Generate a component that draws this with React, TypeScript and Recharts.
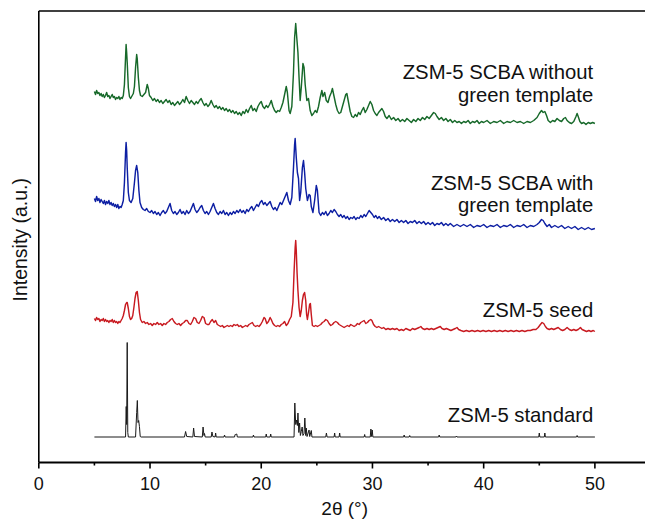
import React from 'react';
import { LineChart, Line, XAxis, YAxis, ReferenceDot, Label } from 'recharts';

type Pt = [number, number];

const X_TICKS = [0, 5, 10, 15, 20, 25, 30, 35, 40, 45, 50];
const X_DOMAIN: [number, number] = [0, 55];
const Y_DOMAIN: [number, number] = [0, 451.5];

const SERIES_NAMES = {
  green: ['ZSM-5 SCBA without', 'green template'],
  blue: ['ZSM-5 SCBA with', 'green template'],
  red: ['ZSM-5 seed'],
  black: ['ZSM-5 standard'],
};
// label anchor (2θ, stacked intensity of the first text baseline)
const LABEL_POS: Record<string, Pt> = {
  green: [49.85, 383.2],
  blue: [49.85, 272.5],
  red: [49.85, 145.8],
  black: [49.85, 40.2],
};

const greenPts: Pt[] = [
  [5.0,371],[5.1,368],[5.2,372],[5.3,369],[5.4,370],[5.5,367],[5.6,369],[5.7,366],[5.8,368],[5.9,365],[6.0,367],[6.1,370],[6.2,366],[6.3,367],[6.4,364],[6.5,366],[6.6,368],[6.7,365],[6.8,366],[6.9,363],[7.0,365],[7.1,364],[7.2,366],[7.3,363],[7.4,365],[7.5,364],[7.6,367],[7.7,378],[7.8,405],[7.85,418],[7.9,410],[7.95,400],[8.05,375],[8.15,366],[8.25,364],[8.35,366],[8.5,369],[8.6,376],[8.7,395],[8.8,408],[8.85,404],[8.95,385],[9.05,372],[9.15,367],[9.3,366],[9.45,368],[9.6,370],[9.75,378],[9.85,374],[9.95,367],[10.1,365],[10.25,362],[10.4,364],[10.55,361],[10.7,363],[10.85,360],[11.0,362],[11.15,359],[11.3,361],[11.45,363],[11.6,360],[11.75,362],[11.9,358],[12.05,360],[12.2,357],[12.35,359],[12.5,361],[12.65,358],[12.8,360],[12.95,363],[13.1,360],[13.25,366],[13.4,362],[13.55,359],[13.7,362],[13.85,360],[14.0,358],[14.15,361],[14.3,359],[14.45,362],[14.6,364],[14.75,360],[14.9,357],[15.05,359],[15.2,356],[15.35,358],[15.5,362],[15.65,358],[15.8,355],[15.95,357],[16.1,354],[16.25,356],[16.4,353],[16.55,355],[16.7,352],[16.85,354],[17.0,351],[17.15,353],[17.3,350],[17.45,352],[17.6,349],[17.75,351],[17.9,348],[18.05,350],[18.2,347],[18.35,351],[18.5,349],[18.65,353],[18.8,350],[18.95,354],[19.1,357],[19.25,352],[19.4,354],[19.55,351],[19.7,356],[19.85,359],[20.0,361],[20.15,356],[20.3,354],[20.45,357],[20.6,355],[20.75,358],[20.9,362],[21.05,356],[21.2,352],[21.35,350],[21.5,352],[21.65,351],[21.8,355],[21.95,360],[22.1,368],[22.25,376],[22.35,370],[22.5,352],[22.6,349],[22.75,356],[22.9,390],[23.0,425],[23.1,439],[23.2,424],[23.3,410],[23.4,385],[23.5,362],[23.6,375],[23.75,399],[23.85,395],[23.95,378],[24.1,362],[24.25,364],[24.4,352],[24.55,347],[24.7,349],[24.85,352],[25.0,350],[25.15,356],[25.3,365],[25.45,372],[25.55,366],[25.7,370],[25.85,362],[26.0,360],[26.15,366],[26.3,370],[26.4,374],[26.55,366],[26.7,358],[26.85,352],[27.0,349],[27.15,350],[27.3,356],[27.45,362],[27.6,368],[27.7,369],[27.85,360],[28.0,351],[28.15,346],[28.3,345],[28.45,348],[28.6,346],[28.75,350],[28.9,348],[29.05,352],[29.2,355],[29.35,350],[29.5,353],[29.65,357],[29.8,361],[29.95,358],[30.1,352],[30.25,349],[30.4,347],[30.55,350],[30.7,352],[30.85,354],[31.0,351],[31.15,346],[31.3,344],[31.5,347],[31.7,343],[31.9,345],[32.1,342],[32.3,344],[32.5,341],[32.7,343],[32.9,341],[33.1,344],[33.3,342],[33.5,340],[33.7,343],[33.9,341],[34.1,344],[34.3,342],[34.5,345],[34.7,343],[34.9,346],[35.1,344],[35.3,347],[35.5,350],[35.65,349],[35.8,346],[36.0,343],[36.2,345],[36.4,342],[36.6,344],[36.8,341],[37.0,343],[37.2,340],[37.4,342],[37.6,340],[37.8,341],[38.0,339],[38.2,341],[38.4,340],[38.6,342],[38.8,339],[39.0,341],[39.2,340],[39.4,342],[39.6,339],[39.8,341],[40.0,340],[40.3,342],[40.6,339],[40.9,341],[41.2,340],[41.5,342],[41.8,339],[42.1,341],[42.4,340],[42.7,342],[43.0,340],[43.3,341],[43.6,339],[43.9,341],[44.2,340],[44.5,342],[44.8,345],[45.0,349],[45.2,352],[45.35,350],[45.5,351],[45.65,347],[45.8,342],[46.0,340],[46.2,342],[46.4,341],[46.6,344],[46.8,342],[47.0,341],[47.2,344],[47.35,345],[47.5,342],[47.7,340],[47.9,339],[48.1,341],[48.3,346],[48.4,349],[48.5,346],[48.65,341],[48.8,339],[49.0,340],[49.2,338],[49.4,340],[49.6,339],[49.8,340],[50.0,339],
];

const bluePts: Pt[] = [
  [5.0,264],[5.1,261],[5.2,266],[5.3,262],[5.4,264],[5.5,260],[5.6,263],[5.7,261],[5.8,259],[5.9,262],[6.0,258],[6.1,261],[6.2,259],[6.3,262],[6.4,258],[6.5,260],[6.6,257],[6.7,259],[6.8,256],[6.9,258],[7.0,255],[7.1,258],[7.2,254],[7.3,256],[7.4,255],[7.5,258],[7.6,262],[7.7,280],[7.8,310],[7.85,320],[7.9,312],[7.95,295],[8.05,270],[8.15,262],[8.3,260],[8.45,264],[8.6,280],[8.7,292],[8.8,297],[8.9,290],[9.0,272],[9.1,260],[9.25,255],[9.4,253],[9.55,252],[9.7,254],[9.85,251],[10.0,250],[10.15,252],[10.3,249],[10.45,251],[10.6,248],[10.75,250],[10.9,247],[11.05,250],[11.2,252],[11.35,249],[11.5,251],[11.65,255],[11.8,259],[11.95,252],[12.1,249],[12.25,251],[12.4,248],[12.55,250],[12.7,253],[12.85,249],[13.0,251],[13.15,248],[13.3,252],[13.45,249],[13.6,251],[13.75,255],[13.9,259],[14.05,253],[14.2,250],[14.35,252],[14.5,255],[14.65,257],[14.8,252],[14.95,249],[15.1,251],[15.25,248],[15.4,251],[15.55,255],[15.7,259],[15.85,254],[16.0,250],[16.15,248],[16.3,251],[16.45,249],[16.6,252],[16.75,248],[16.9,250],[17.05,247],[17.2,250],[17.35,248],[17.5,251],[17.65,249],[17.8,252],[17.95,250],[18.1,253],[18.25,250],[18.4,252],[18.55,249],[18.7,253],[18.85,251],[19.0,254],[19.15,256],[19.3,252],[19.45,255],[19.6,258],[19.75,256],[19.9,260],[20.05,262],[20.2,258],[20.35,260],[20.5,257],[20.65,259],[20.8,261],[20.95,256],[21.1,253],[21.25,255],[21.4,252],[21.55,256],[21.7,260],[21.85,258],[22.0,262],[22.15,266],[22.3,270],[22.45,262],[22.6,258],[22.75,265],[22.9,295],[23.0,318],[23.05,324],[23.15,305],[23.25,290],[23.35,284],[23.45,262],[23.55,270],[23.7,295],[23.8,302],[23.9,290],[24.0,274],[24.15,262],[24.3,268],[24.4,267],[24.5,256],[24.65,250],[24.8,262],[24.95,277],[25.05,272],[25.2,250],[25.35,247],[25.5,250],[25.65,248],[25.8,251],[25.95,247],[26.1,249],[26.25,252],[26.4,250],[26.55,253],[26.7,251],[26.85,248],[27.0,246],[27.15,248],[27.3,245],[27.45,247],[27.6,244],[27.75,246],[27.9,243],[28.05,245],[28.2,244],[28.35,246],[28.5,243],[28.65,245],[28.8,244],[28.95,247],[29.1,245],[29.25,248],[29.4,246],[29.55,249],[29.7,252],[29.85,250],[30.0,248],[30.15,245],[30.3,247],[30.45,244],[30.6,246],[30.8,243],[31.0,245],[31.2,242],[31.4,244],[31.6,241],[31.8,243],[32.0,241],[32.2,243],[32.4,240],[32.6,242],[32.8,240],[33.0,242],[33.2,239],[33.4,241],[33.6,240],[33.8,242],[34.0,239],[34.2,241],[34.4,239],[34.6,241],[34.8,238],[35.0,240],[35.2,238],[35.4,240],[35.6,237],[35.8,239],[36.0,238],[36.2,240],[36.4,237],[36.6,239],[36.8,237],[37.0,239],[37.3,236],[37.6,238],[37.9,236],[38.2,238],[38.5,236],[38.8,238],[39.1,235],[39.4,237],[39.7,236],[40.0,238],[40.3,235],[40.6,237],[40.9,236],[41.2,238],[41.5,235],[41.8,237],[42.1,236],[42.4,238],[42.7,235],[43.0,237],[43.3,236],[43.6,238],[43.9,235],[44.2,237],[44.5,236],[44.8,238],[45.0,240],[45.2,243],[45.35,242],[45.5,239],[45.7,236],[45.9,238],[46.1,235],[46.4,237],[46.7,235],[47.0,237],[47.3,234],[47.6,236],[47.9,234],[48.2,236],[48.5,233],[48.8,235],[49.1,233],[49.4,235],[49.7,233],[50.0,234],
];

const redPts: Pt[] = [
  [5.0,144],[5.1,142],[5.2,145],[5.3,143],[5.4,144],[5.5,141],[5.6,143],[5.7,142],[5.8,144],[5.9,141],[6.0,143],[6.1,141],[6.2,142],[6.3,140],[6.4,142],[6.5,141],[6.6,143],[6.7,140],[6.8,142],[6.9,140],[7.0,141],[7.1,139],[7.2,141],[7.3,140],[7.4,142],[7.5,144],[7.6,147],[7.7,152],[7.8,158],[7.9,160],[7.95,160],[8.05,154],[8.15,146],[8.25,143],[8.35,144],[8.45,147],[8.55,155],[8.65,164],[8.75,170],[8.85,171],[8.95,162],[9.05,150],[9.15,143],[9.3,140],[9.45,141],[9.6,139],[9.75,140],[9.9,138],[10.05,139],[10.2,137],[10.35,139],[10.5,138],[10.65,140],[10.8,138],[10.95,139],[11.1,137],[11.25,139],[11.4,138],[11.55,140],[11.7,141],[11.85,143],[12.0,144],[12.15,141],[12.3,139],[12.45,138],[12.6,139],[12.75,137],[12.9,139],[13.05,140],[13.2,142],[13.35,142],[13.5,139],[13.65,138],[13.8,141],[13.95,145],[14.1,144],[14.25,140],[14.4,139],[14.55,142],[14.7,146],[14.85,145],[15.0,139],[15.15,138],[15.3,138],[15.45,141],[15.6,143],[15.75,140],[15.9,142],[16.05,138],[16.2,137],[16.35,136],[16.5,137],[16.65,135],[16.8,136],[16.95,137],[17.1,136],[17.25,137],[17.4,136],[17.55,138],[17.7,137],[17.85,138],[18.0,136],[18.15,137],[18.3,135],[18.45,136],[18.6,137],[18.75,136],[18.9,138],[19.05,139],[19.2,140],[19.35,137],[19.5,136],[19.65,137],[19.8,136],[19.95,138],[20.1,141],[20.25,145],[20.35,144],[20.5,139],[20.65,141],[20.8,145],[20.9,143],[21.05,139],[21.2,137],[21.35,136],[21.5,137],[21.65,136],[21.8,138],[21.95,139],[22.1,141],[22.25,137],[22.4,139],[22.55,143],[22.7,146],[22.85,160],[22.95,190],[23.05,215],[23.1,222],[23.15,212],[23.22,190],[23.3,172],[23.4,155],[23.5,146],[23.6,152],[23.7,162],[23.8,168],[23.9,170],[24.0,162],[24.08,148],[24.15,143],[24.25,150],[24.35,158],[24.42,159],[24.5,148],[24.6,137],[24.75,136],[24.9,137],[25.05,136],[25.2,137],[25.35,138],[25.5,140],[25.65,141],[25.8,143],[25.95,142],[26.1,139],[26.25,137],[26.4,138],[26.55,140],[26.7,141],[26.85,140],[27.0,138],[27.15,137],[27.3,136],[27.45,135],[27.6,136],[27.75,137],[27.9,136],[28.05,138],[28.2,137],[28.35,136],[28.5,137],[28.65,139],[28.8,138],[28.95,140],[29.1,141],[29.25,142],[29.4,139],[29.55,140],[29.7,142],[29.85,143],[29.95,142],[30.1,138],[30.25,136],[30.4,135],[30.55,136],[30.7,135],[30.85,134],[31.0,135],[31.2,133],[31.4,134],[31.6,133],[31.8,134],[32.0,133],[32.2,134],[32.4,132],[32.6,133],[32.8,132],[33.0,134],[33.2,133],[33.4,132],[33.6,134],[33.8,133],[34.0,134],[34.2,135],[34.35,136],[34.5,134],[34.7,133],[34.9,134],[35.1,133],[35.3,134],[35.5,133],[35.7,134],[35.9,135],[36.1,136],[36.25,134],[36.45,133],[36.65,134],[36.85,133],[37.05,132],[37.25,133],[37.45,134],[37.6,135],[37.75,133],[37.95,132],[38.2,131],[38.45,132],[38.7,131],[38.95,132],[39.2,131],[39.45,132],[39.7,131],[39.95,132],[40.2,131],[40.45,132],[40.7,131],[40.95,132],[41.2,131],[41.45,132],[41.7,131],[41.95,132],[42.2,131],[42.45,132],[42.7,131],[42.95,132],[43.2,131],[43.45,132],[43.7,131],[43.95,132],[44.2,132],[44.45,133],[44.7,133],[44.9,135],[45.1,138],[45.25,140],[45.4,139],[45.55,136],[45.7,134],[45.9,133],[46.1,134],[46.3,133],[46.5,134],[46.7,135],[46.9,133],[47.1,132],[47.3,133],[47.5,135],[47.7,133],[47.9,132],[48.1,133],[48.3,132],[48.5,133],[48.7,135],[48.85,133],[49.05,132],[49.25,131],[49.45,132],[49.65,131],[49.85,132],[50.0,131],
];

const blackPts: Pt[] = [
  [5.0,25.5],[7.8,25.5],[7.86,56],[7.9,38],[7.95,120],[8.0,30],[8.05,25.5],[8.7,25.5],[8.8,50],[8.86,62],[8.92,40],[8.98,42],[9.05,36],[9.12,26],[9.2,25.5],[13.1,25.5],[13.2,31],[13.3,26],[13.85,25.5],[13.92,34.5],[14.0,26],[14.7,25.5],[14.77,35.5],[14.85,27],[14.9,29],[14.96,25.5],[15.5,25.5],[15.57,30.5],[15.65,26],[15.85,25.5],[15.9,29.5],[15.95,25.5],[16.65,25.5],[16.7,27.5],[16.75,25.5],[17.6,25.5],[17.65,28],[17.7,28],[17.8,28.5],[17.85,25.5],[19.25,25.5],[19.3,27.5],[19.35,25.5],[20.4,25.5],[20.45,28.5],[20.5,25.5],[20.8,25.5],[20.85,28.5],[20.9,25.5],[22.95,25.5],[23.02,59.5],[23.1,38],[23.18,42.5],[23.25,37],[23.3,49.5],[23.38,30],[23.45,39.5],[23.52,27],[23.6,31],[23.68,35.5],[23.75,27],[23.85,29],[23.92,44.5],[24.0,27],[24.05,34.5],[24.12,26],[24.3,32.5],[24.36,26],[24.5,32],[24.56,25.5],[25.8,25.5],[25.86,29.5],[25.92,25.5],[26.55,25.5],[26.6,29.5],[26.65,25.5],[27.0,25.5],[27.05,29.5],[27.1,25.5],[29.25,25.5],[29.3,28],[29.35,25.5],[29.8,25.5],[29.86,33.5],[29.92,26],[29.98,32.5],[30.04,25.5],[32.8,25.5],[32.85,27.5],[32.9,25.5],[33.3,25.5],[33.35,27],[33.4,25.5],[35.95,25.5],[36.0,27.5],[36.05,25.5],[37.5,25.5],[37.55,26.5],[37.6,25.5],[44.95,25.5],[45.0,29.5],[45.05,25.5],[45.45,25.5],[45.5,29.5],[45.55,25.5],[48.35,25.5],[48.4,27],[48.45,25.5],[50.0,25.5],
];

const rows = (p: Pt[]) => p.map(([t, v]) => ({ t, v }));

const FONT = '"Liberation Sans", Arial, Helvetica, sans-serif';
const INK = '#111';
const AXIS_W = 1.8;
const TICK_LEN = 6;
const MINOR_LEN = 3;
const TICK_GAP = 9;
const TRACE_W = 1.45;

const COLORS = { green: '#17692a', blue: '#0d1fa3', red: '#c81a20', black: '#1a1a1a' };

function XTick(props: any) {
  const { x, y, payload } = props;
  const v = payload.value;
  const major = v % 10 === 0;
  const axisY = y - TICK_LEN - TICK_GAP;
  return (
    <g>
      <line x1={x} x2={x} y1={axisY} y2={axisY + (major ? TICK_LEN : MINOR_LEN)} stroke="#000" strokeWidth={1.6} />
      {major && (
        <text x={x} y={y} dy="0.71em" textAnchor="middle" fontSize={18} fontFamily={FONT} fill={INK}>
          {v}
        </text>
      )}
    </g>
  );
}

function XTitle(props: any) {
  const vb = props.viewBox || { x: 38.8, y: 462.5, width: 611.7, height: 50 };
  const cx = vb.x + vb.width / 2;
  return (
    <text x={cx} y={vb.y + 52.5} textAnchor="middle" fontSize={19} fontFamily={FONT} fill={INK}>
      2θ (°)
    </text>
  );
}

function YTitle(props: any) {
  const vb = props.viewBox || { x: 37.8, y: 11, width: 1, height: 451.5 };
  const cx = vb.x + vb.width - 19;
  const cy = vb.y + vb.height / 2 + 3;
  return (
    <text
      x={cx}
      y={cy}
      transform={`rotate(-90 ${cx} ${cy})`}
      textAnchor="middle"
      dominantBaseline="central"
      fontSize={19.5}
      fontFamily={FONT}
      fill={INK}
    >
      Intensity (a.u.)
    </text>
  );
}

function makeLabel(lines: string[], lineGap: number) {
  return (props: any) => {
    const { cx, cy } = props;
    return (
      <text x={cx} y={cy} textAnchor="end" fontSize={20.3} fontFamily={FONT} fill={INK}>
        {lines.map((s, i) => (
          <tspan key={i} x={cx} dy={i === 0 ? 0 : lineGap}>
            {s}
          </tspan>
        ))}
      </text>
    );
  };
}

export default function App() {
  return (
    <div style={{ position: 'absolute', left: 0, top: 0, width: 645, height: 519, overflow: 'hidden', background: '#fff' }}>
      <LineChart width={652} height={519} margin={{ top: 10, right: 1.5, left: 37.8, bottom: 6.5 }}>
        <XAxis
          xAxisId="top"
          orientation="top"
          type="number"
          dataKey="t"
          domain={X_DOMAIN}
          height={1}
          tick={false}
          tickLine={false}
          axisLine={{ stroke: '#000', strokeWidth: 1.6 }}
        />
        <XAxis
          type="number"
          dataKey="t"
          domain={X_DOMAIN}
          ticks={X_TICKS}
          allowDataOverflow
          height={50}
          tickSize={TICK_LEN}
          tickMargin={TICK_GAP}
          tickLine={false}
          tick={<XTick />}
          interval={0}
          axisLine={{ stroke: '#000', strokeWidth: AXIS_W }}
        >
          <Label content={<XTitle />} />
        </XAxis>
        <YAxis
          type="number"
          domain={Y_DOMAIN}
          width={1}
          tick={false}
          tickLine={false}
          axisLine={{ stroke: '#000', strokeWidth: 1.6 }}
        >
          <Label content={<YTitle />} />
        </YAxis>
        <Line data={rows(greenPts)} dataKey="v" type="linear" stroke={COLORS.green} strokeWidth={TRACE_W} strokeLinejoin="round" dot={false} isAnimationActive={false} />
        <Line data={rows(bluePts)} dataKey="v" type="linear" stroke={COLORS.blue} strokeWidth={TRACE_W} strokeLinejoin="round" dot={false} isAnimationActive={false} />
        <Line data={rows(redPts)} dataKey="v" type="linear" stroke={COLORS.red} strokeWidth={TRACE_W} strokeLinejoin="round" dot={false} isAnimationActive={false} />
        <Line data={rows(blackPts)} dataKey="v" type="linear" stroke={COLORS.black} strokeWidth={1} dot={false} isAnimationActive={false} />
        <ReferenceDot x={LABEL_POS.green[0]} y={LABEL_POS.green[1]} r={0} shape={makeLabel(SERIES_NAMES.green, 22.4)} />
        <ReferenceDot x={LABEL_POS.blue[0]} y={LABEL_POS.blue[1]} r={0} shape={makeLabel(SERIES_NAMES.blue, 21.7)} />
        <ReferenceDot x={LABEL_POS.red[0]} y={LABEL_POS.red[1]} r={0} shape={makeLabel(SERIES_NAMES.red, 22)} />
        <ReferenceDot x={LABEL_POS.black[0]} y={LABEL_POS.black[1]} r={0} shape={makeLabel(SERIES_NAMES.black, 22)} />
      </LineChart>
    </div>
  );
}
